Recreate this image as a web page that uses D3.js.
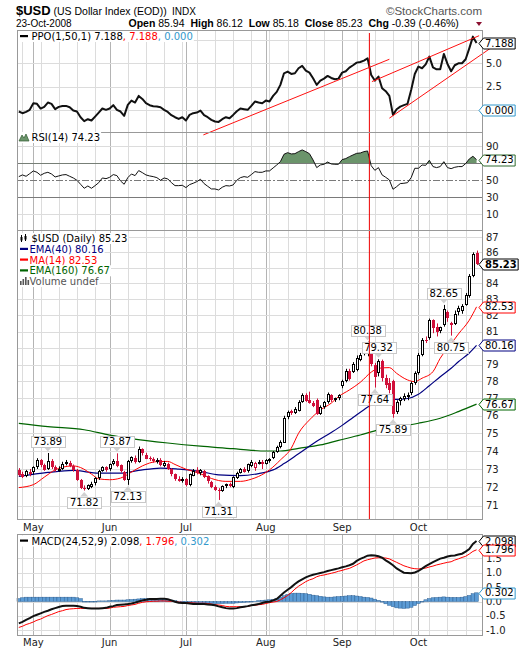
<!DOCTYPE html>
<html><head><meta charset="utf-8">
<script src="https://cdn.jsdelivr.net/npm/d3@7/dist/d3.min.js"></script>
<style>html,body{margin:0;padding:0;background:#fff;}svg{display:block;}</style>
</head><body>
<svg id="chart" width="520" height="651"></svg>
<script>
// ---------------- DATA ----------------
const dates = ["04-25","04-28","04-29","04-30",
"05-01","05-02","05-05","05-06","05-07","05-08","05-09","05-12","05-13","05-14","05-15","05-16","05-19","05-20","05-21","05-22","05-23","05-27","05-28","05-29","05-30",
"06-02","06-03","06-04","06-05","06-06","06-09","06-10","06-11","06-12","06-13","06-16","06-17","06-18","06-19","06-20","06-23","06-24","06-25","06-26","06-27","06-30",
"07-01","07-02","07-03","07-07","07-08","07-09","07-10","07-11","07-14","07-15","07-16","07-17","07-18","07-21","07-22","07-23","07-24","07-25","07-28","07-29","07-30","07-31",
"08-01","08-04","08-05","08-06","08-07","08-08","08-11","08-12","08-13","08-14","08-15","08-18","08-19","08-20","08-21","08-22","08-25","08-26","08-27","08-28","08-29",
"09-02","09-03","09-04","09-05","09-08","09-09","09-10","09-11","09-12","09-15","09-16","09-17","09-18","09-19","09-22","09-23","09-24","09-25","09-26","09-29","09-30",
"10-01","10-02","10-03","10-06","10-07","10-08","10-09","10-10","10-13","10-14","10-15","10-16","10-17","10-20","10-21","10-22","10-23"];
const monthLabels = ["May","Jun","Jul","Aug","Sep","Oct"];

const opens = [72.95,72.75,72.60,72.85,72.80,73.10,73.50,73.20,73.00,73.45,73.10,72.90,73.00,73.30,73.35,73.15,72.95,72.40,71.95,71.90,72.05,72.20,72.50,72.90,73.10,
72.95,73.30,73.45,73.20,72.85,72.40,73.40,73.60,73.40,74.10,73.80,73.60,73.55,73.40,73.50,73.20,73.30,73.00,72.70,72.45,72.35,
72.45,72.10,72.65,72.95,72.80,72.90,72.60,72.30,72.00,71.85,71.80,72.05,72.20,72.00,72.50,72.80,73.00,72.85,73.20,73.05,73.35,73.40,
73.30,73.45,73.60,73.95,74.20,74.50,75.90,76.25,76.15,76.30,76.80,77.20,76.90,76.75,76.90,76.10,76.50,76.80,77.20,76.90,77.00,
77.70,78.00,78.60,78.60,78.70,79.30,79.65,79.70,79.80,79.00,78.50,79.20,78.20,77.90,78.00,76.20,76.80,77.00,77.10,77.30,77.90,
78.50,79.60,80.50,80.60,81.70,81.30,81.00,81.40,82.20,81.50,81.50,82.20,82.30,82.70,83.20,84.50,85.94];
const highs = [73.05,72.85,72.95,73.00,73.15,73.60,73.55,73.30,73.89,73.55,73.20,73.15,73.40,73.50,73.45,73.25,73.00,72.45,72.10,72.15,72.30,72.55,72.95,73.15,73.15,
73.30,73.55,73.87,73.25,72.90,73.50,73.70,73.75,74.25,74.15,73.90,73.70,73.65,73.60,73.60,73.45,73.35,73.05,72.75,72.60,72.55,
72.50,72.75,73.00,73.10,73.00,72.95,72.65,72.35,72.10,71.95,72.10,72.20,72.25,72.60,72.85,73.05,73.10,73.30,73.50,73.40,73.50,73.50,
73.55,73.60,74.00,74.30,74.60,76.00,76.30,76.35,76.50,76.90,77.30,77.30,77.40,76.85,77.00,76.60,76.85,77.35,77.25,77.05,77.25,
78.10,78.75,78.75,79.15,79.55,79.70,80.00,80.38,79.90,79.10,79.32,79.30,78.40,78.20,78.10,76.90,77.10,77.30,77.35,78.00,78.60,
79.70,80.60,80.70,81.80,81.75,81.50,81.30,82.65,82.30,81.60,82.30,82.60,82.70,83.40,84.60,86.00,86.12];
const lows = [72.60,72.50,72.55,72.60,72.70,73.00,73.10,72.90,72.95,73.00,72.85,72.85,72.95,73.20,73.10,72.85,72.35,71.90,71.82,71.85,71.95,72.10,72.40,72.85,72.85,
72.90,73.20,73.10,72.80,72.35,72.13,73.35,73.30,73.35,73.75,73.55,73.45,73.35,73.30,73.15,73.10,72.95,72.60,72.35,72.30,72.25,
72.05,72.05,72.60,72.70,72.65,72.50,72.20,71.95,71.80,71.31,71.75,71.95,72.00,71.95,72.45,72.75,72.80,72.80,73.10,72.90,73.25,73.00,
73.25,73.35,73.55,73.90,74.15,74.45,75.80,76.05,76.10,76.25,76.75,76.80,76.70,76.50,76.05,76.05,76.40,76.70,76.80,76.80,76.90,
77.60,77.95,78.05,78.50,78.60,79.20,79.55,79.50,78.90,77.64,78.30,78.00,77.60,77.30,75.89,76.10,76.60,76.85,76.90,77.20,77.80,
78.40,79.50,80.30,80.50,80.90,80.70,80.90,81.30,81.60,80.75,81.40,82.00,82.10,82.60,83.10,84.40,85.18];
const closes = [72.70,72.60,72.90,72.75,73.10,73.50,73.20,72.95,73.45,73.10,72.95,73.00,73.30,73.40,73.20,72.95,72.40,71.95,71.90,72.10,72.20,72.50,72.90,73.10,72.95,
73.25,73.45,73.20,72.85,72.40,73.45,73.65,73.35,74.10,73.85,73.60,73.55,73.45,73.50,73.20,73.35,73.00,72.70,72.45,72.35,72.45,
72.10,72.70,72.90,72.80,72.95,72.55,72.30,72.00,71.85,71.80,72.05,72.15,72.10,72.55,72.80,73.00,72.85,73.25,73.40,73.35,73.40,73.30,
73.50,73.55,73.95,74.25,74.50,75.90,76.20,76.15,76.40,76.80,77.20,76.85,76.75,76.60,76.10,76.50,76.80,77.25,76.90,77.00,77.20,
78.00,78.60,78.10,79.05,79.40,79.60,79.90,80.10,79.00,78.30,79.20,78.20,77.80,77.50,76.05,76.80,77.00,77.15,77.20,77.90,78.50,
79.60,80.50,80.45,81.70,81.20,81.00,81.25,82.40,81.80,81.35,82.10,82.45,82.60,83.30,84.50,85.90,85.23];

const ma14Days = [0,4,7,10,12,15,17,20,22,25,28,31,34,38,41,43,46,50,53,57,61,64,66,69,72,75,77,80,83,86,88,91,94,97,99,102,104,107,109,111,114,116,119,121,124,126];
const ma14Vals = [71.98,72.14,72.55,72.95,73.10,73.17,73.08,72.72,72.46,72.41,72.50,72.83,73.17,73.41,73.42,73.25,72.99,72.74,72.48,72.32,72.32,72.44,72.59,72.95,73.50,74.16,75.00,75.76,76.33,76.73,77.11,77.50,77.95,78.55,78.78,78.82,78.48,78.09,77.99,78.19,78.58,79.38,80.25,80.85,81.70,82.53];
const ema40Days = [0,8,15,22,28,33,39,44,50,55,61,66,70,73,77,82,86,89,92,95,98,101,104,107,110,113,116,119,121,124,126];
const ema40Vals = [72.59,72.81,72.92,72.77,72.77,72.92,73.05,72.99,72.86,72.68,72.64,72.75,72.95,73.30,73.85,74.55,75.05,75.45,75.90,76.35,76.75,76.95,76.95,77.00,77.25,77.75,78.28,78.78,79.17,79.70,80.16];
const ema160Days = [0,8,18,25,31,41,50,59,64,68,72,77,83,88,94,99,105,110,116,121,126];
const ema160Vals = [75.57,75.38,75.20,74.90,74.70,74.45,74.27,74.13,74.04,74.00,74.00,74.15,74.34,74.60,74.90,75.19,75.38,75.57,75.86,76.24,76.67];

const ppo = [-0.14,-0.32,-0.18,0.04,0.75,0.68,0.18,0.36,0.82,0.68,0.11,0.36,0.46,0.46,0.32,-0.04,-0.14,-0.75,-1.17,-0.96,-1.10,-0.68,-0.25,0.18,0.04,
0.18,0.54,0.04,-0.14,-0.60,0.57,1.03,0.82,1.53,1.21,0.75,0.54,0.43,0.39,0.32,0.04,-0.18,-0.53,-0.75,-0.93,-0.75,
-1.10,-0.50,-0.32,-0.25,-0.04,-0.53,-0.75,-1.03,-1.21,-1.25,-0.96,-0.75,-0.85,-0.50,-0.11,0.18,0.11,0.04,0.46,0.93,0.82,0.75,
1.03,0.93,1.53,1.96,2.71,3.95,4.13,3.88,3.95,4.49,4.74,4.24,4.02,3.42,2.71,3.17,3.38,3.67,3.45,3.31,3.38,
4.02,4.17,4.56,4.81,5.09,5.16,5.31,5.55,3.77,3.17,3.60,2.35,2.03,1.53,-0.50,0.11,0.39,0.54,0.68,2.17,3.88,
4.67,4.49,4.91,5.73,4.59,4.38,4.38,6.02,4.95,4.17,4.81,5.02,5.02,5.45,6.62,7.87,7.188];
const ppoTicks = [0, 2.5, 5, 7.5];
// trendlines drawn on the PPO panel: [startDay, startValue, endDay, endValue]
const ppoTrendlines = [[50.8,-2.64,102,5.45],[97.2,3.06,126.7,7.97],[102,-0.85,129.8,6.62]];
const markerDay = 96.5;

const rsi = [54.3,56.3,54.7,57.8,61.0,59.4,55.9,58.2,59.4,57.4,53.9,55.1,56.3,56.7,54.7,52.7,50.0,45.3,40.6,43.3,40.6,43.7,47.2,52.7,51.9,
53.5,56.7,55.5,49.2,45.3,53.1,57.4,55.5,61.4,59.0,56.3,55.1,54.3,53.1,50.0,52.7,51.6,47.2,43.7,43.7,44.1,
41.4,44.9,46.5,48.4,51.2,46.1,42.9,39.8,39.8,38.6,41.8,43.7,43.3,44.5,50.0,53.1,54.3,53.5,56.7,60.2,59.4,59.4,
61.0,61.0,64.5,68.0,71.9,80.6,82.5,81.0,81.3,83.7,85.7,83.7,81.3,73.9,64.9,68.0,68.8,71.5,69.2,68.8,68.8,
74.3,75.5,77.8,79.8,81.7,82.1,83.7,84.5,67.2,61.7,64.9,56.3,53.5,50.4,39.4,42.5,46.1,46.5,47.2,53.1,64.1,
64.1,68.0,67.6,73.5,66.1,64.9,66.1,71.9,64.9,63.7,65.3,66.1,66.1,69.6,75.1,78.2,74.23];
const rsiTicks = [10,30,50,70,90];

const macd = [-0.76,-0.71,-0.64,-0.58,-0.51,-0.46,-0.41,-0.36,-0.32,-0.27,-0.23,-0.19,-0.16,-0.15,-0.15,-0.15,-0.16,-0.18,-0.22,-0.23,-0.24,-0.24,-0.24,-0.23,-0.22,
-0.18,-0.16,-0.12,-0.11,-0.10,-0.09,-0.07,-0.04,0.00,0.04,0.06,0.09,0.09,0.09,0.10,0.10,0.08,0.04,-0.01,-0.04,-0.05,
-0.05,-0.07,-0.09,-0.09,-0.09,-0.09,-0.10,-0.11,-0.13,-0.17,-0.20,-0.23,-0.24,-0.24,-0.23,-0.20,-0.18,-0.16,-0.13,-0.11,-0.09,-0.05,
-0.02,-0.01,0.04,0.09,0.20,0.31,0.41,0.50,0.61,0.70,0.77,0.84,0.89,0.93,0.96,0.99,1.02,1.06,1.09,1.12,1.15,
1.19,1.22,1.26,1.31,1.41,1.48,1.53,1.59,1.61,1.60,1.57,1.52,1.43,1.35,1.26,1.15,1.07,1.00,0.99,0.98,1.01,
1.06,1.14,1.23,1.30,1.37,1.43,1.49,1.52,1.56,1.59,1.60,1.63,1.66,1.73,1.82,2.00,2.098];
const macdSignal = [-0.90,-0.86,-0.80,-0.76,-0.71,-0.65,-0.61,-0.55,-0.49,-0.45,-0.40,-0.35,-0.32,-0.28,-0.26,-0.25,-0.24,-0.24,-0.24,-0.24,-0.24,-0.24,-0.24,-0.24,-0.24,
-0.23,-0.20,-0.19,-0.18,-0.17,-0.14,-0.12,-0.10,-0.06,-0.03,-0.01,0.00,0.01,0.01,0.02,0.02,0.01,0.01,0.00,-0.02,-0.03,
-0.04,-0.04,-0.05,-0.06,-0.06,-0.06,-0.07,-0.09,-0.11,-0.12,-0.14,-0.17,-0.18,-0.18,-0.18,-0.18,-0.18,-0.17,-0.14,-0.13,-0.11,-0.10,
-0.07,-0.04,-0.02,0.00,0.06,0.13,0.21,0.31,0.43,0.53,0.61,0.69,0.75,0.79,0.86,0.90,0.92,0.95,0.98,1.01,1.05,
1.08,1.12,1.15,1.21,1.27,1.34,1.41,1.45,1.48,1.51,1.52,1.52,1.51,1.48,1.42,1.36,1.30,1.24,1.20,1.16,1.14,
1.13,1.15,1.16,1.20,1.23,1.27,1.30,1.33,1.36,1.38,1.44,1.48,1.53,1.57,1.65,1.74,1.796];
const macdHist = [0.10,0.13,0.15,0.15,0.15,0.15,0.15,0.15,0.15,0.15,0.15,0.15,0.15,0.15,0.15,0.15,0.13,0.10,0.00,-0.01,-0.01,0.00,0.02,0.02,0.02,
0.03,0.04,0.05,0.05,0.05,0.06,0.07,0.08,0.09,0.10,0.10,0.10,0.10,0.10,0.10,0.09,0.07,0.05,0.03,0.01,-0.02,
-0.03,-0.03,-0.04,-0.05,-0.06,-0.06,-0.07,-0.07,-0.07,-0.07,-0.07,-0.06,-0.06,-0.06,-0.05,-0.04,-0.03,-0.02,-0.01,0.01,0.03,0.04,
0.05,0.06,0.07,0.10,0.15,0.20,0.25,0.28,0.29,0.29,0.28,0.27,0.25,0.22,0.20,0.18,0.16,0.15,0.15,0.16,0.17,
0.18,0.19,0.20,0.20,0.19,0.17,0.15,0.14,0.12,0.08,0.04,-0.02,-0.08,-0.13,-0.18,-0.22,-0.23,-0.24,-0.23,-0.20,-0.14,
-0.07,0.00,0.06,0.10,0.13,0.14,0.15,0.16,0.15,0.14,0.14,0.14,0.15,0.17,0.21,0.27,0.302];
const macdTicks = [-1.0,-0.5,0,0.5,1.0,1.5,2.0];

// annotated swing highs / lows (day index)
const highMarks = [8,27,96,99,117];
const lowMarks = [18,30,55,98,103,119];

const symbol = "$USD", quote = {open:85.94, high:86.12, low:85.18, close:85.23, chg:-0.39, chgPct:-0.46};

// ---------------- LAYOUT ----------------
const svg = d3.select("#chart");
const F = "'DejaVu Sans', Verdana, sans-serif";
const HF = "'Liberation Sans', Arial, sans-serif";
const N = dates.length;
const L = 17, R = 482;
const x = d3.scaleLinear().domain([-0.5, 127.5]).range([L, R]);
const P = {ppo:[30,132], rsi:[132,230], main:[230,519], macd:[534,635]};
const yPPO = d3.scaleLinear().domain([-2.33, 8.58]).range([132, 30]);
const yRSI = d3.scaleLinear().domain([-8.5, 106.8]).range([230, 132]);
const yMain = d3.scaleLog().domain([70.29, 87.47]).range([519, 230]);
const yMACD = d3.scaleLinear().domain([-1.163, 2.344]).range([635, 534]);
const days = d3.range(N);

const dObjs = dates.map(d => new Date("2008-" + d + "T12:00:00"));
const monthStarts = [], weekStarts = [];
dObjs.forEach((d, i) => {
  if (i === 0) return;
  const p = dObjs[i-1];
  if (d.getMonth() !== p.getMonth()) monthStarts.push(i);
  else if (d.getDay() < p.getDay()) weekStarts.push(i);
});
const px = i => Math.round(x(i)) + 0.5;

// ---------------- GRIDS ----------------
const gGrid = svg.append("g");
function grid(top, bottom, ys, ticks, styleFn) {
  weekStarts.forEach(i => gGrid.append("line").attr("x1", px(i)).attr("x2", px(i)).attr("y1", top).attr("y2", bottom).attr("stroke", "#dcdcdc"));
  monthStarts.forEach(i => gGrid.append("line").attr("x1", px(i)).attr("x2", px(i)).attr("y1", top).attr("y2", bottom).attr("stroke", "#b4b4b4"));
  ticks.forEach(t => {
    const yy = Math.round(ys(t)) + 0.5;
    const ln = gGrid.append("line").attr("x1", L).attr("x2", R).attr("y1", yy).attr("y2", yy).attr("stroke", "#dcdcdc");
    if (styleFn) styleFn(t, ln);
  });
}
grid(P.ppo[0], P.ppo[1], yPPO, ppoTicks);
grid(P.rsi[0], P.rsi[1], yRSI, rsiTicks, (t, ln) => {
  if (t === 30 || t === 70) ln.attr("stroke", "#7a7a7a");
  if (t === 50) ln.attr("stroke", "#7a7a7a").attr("stroke-dasharray", "7,2,2,2");
});
grid(P.main[0], P.main[1], yMain, d3.range(71, 88));
grid(P.macd[0], P.macd[1], yMACD, macdTicks);

// ---------------- PPO ----------------
svg.append("path").attr("d", d3.line().x(i => x(i)).y(i => yPPO(ppo[i]))(days))
  .attr("fill", "none").attr("stroke", "#111").attr("stroke-width", 2).attr("stroke-linejoin", "round");
ppoTrendlines.forEach(t => svg.append("line").attr("x1", x(t[0])).attr("y1", yPPO(t[1])).attr("x2", x(t[2])).attr("y2", yPPO(t[3]))
  .attr("stroke", "#ff1010").attr("stroke-width", 1));

// ---------------- RSI ----------------
svg.append("clipPath").attr("id", "ob").append("rect").attr("x", L).attr("y", P.rsi[0]).attr("width", R - L).attr("height", yRSI(70) - P.rsi[0]);
svg.append("path").attr("clip-path", "url(#ob)")
  .attr("d", d3.area().x(i => x(i)).y0(yRSI(70)).y1(i => yRSI(rsi[i]))(days))
  .attr("fill", "#6b946b").attr("stroke", "none");
svg.append("path").attr("d", d3.line().x(i => x(i)).y(i => yRSI(rsi[i]))(days))
  .attr("fill", "none").attr("stroke", "#111").attr("stroke-width", 1);

// ---------------- MAIN ----------------
const mline = (ds, vs) => d3.line().curve(d3.curveMonotoneX).x((d, k) => x(ds[k])).y((d, k) => yMain(vs[k]))(vs);
svg.append("path").attr("d", mline(ema160Days, ema160Vals)).attr("fill", "none").attr("stroke", "#006400").attr("stroke-width", 1.2);
svg.append("path").attr("d", mline(ema40Days, ema40Vals)).attr("fill", "none").attr("stroke", "#000080").attr("stroke-width", 1.2);
svg.append("path").attr("d", mline(ma14Days, ma14Vals)).attr("fill", "none").attr("stroke", "#ff0000").attr("stroke-width", 1);

const gC = svg.append("g");
days.forEach(i => {
  const cx = Math.round(x(i));
  const up = i === 0 ? closes[i] >= opens[i] : closes[i] >= closes[i-1];
  const col = up ? "#000" : "#d0103a";
  gC.append("line").attr("x1", cx + 0.5).attr("x2", cx + 0.5).attr("y1", yMain(highs[i])).attr("y2", yMain(lows[i])).attr("stroke", col);
  const yO = yMain(opens[i]), yCl = yMain(closes[i]);
  const top = Math.round(Math.min(yO, yCl)), h = Math.max(1, Math.round(Math.abs(yO - yCl)));
  if (closes[i] > opens[i]) {
    gC.append("rect").attr("x", cx - 0.5).attr("y", top + 0.5).attr("width", 2).attr("height", Math.max(1, h - 1))
      .attr("fill", "#fff").attr("stroke", col);
  } else {
    gC.append("rect").attr("x", cx - 1).attr("y", top).attr("width", 3).attr("height", h).attr("fill", col);
  }
});

// swing annotations
const gA = svg.append("g");
function annot(i, val, above) {
  const cx = x(i), yv = yMain(val);
  const h = 11;
  const t = gA.append("text").attr("font-family", F).attr("font-size", 10).attr("text-anchor", "middle").text(val.toFixed(2));
  const w = t.node().getComputedTextLength() + 5;
  const by = above ? yv - 6 - h : yv + 6;
  const tip = above ? yv - 1.5 : yv + 1.5;
  const base = above ? by + h : by;
  gA.insert("path", "text").attr("d", `M${cx-4},${base}L${cx+4},${base}L${cx},${tip}Z`).attr("fill", "#d0d0d0");
  gA.insert("rect", "text").attr("x", Math.round(cx - w/2) + 0.5).attr("y", Math.round(by) + 0.5).attr("width", Math.round(w)).attr("height", h)
    .attr("fill", "#fff").attr("stroke", "#c8c8c8");
  t.attr("x", cx).attr("y", by + 9);
}
highMarks.forEach(i => annot(i, highs[i], true));
lowMarks.forEach(i => annot(i, lows[i], false));

// ---------------- MACD ----------------
const bw = x(1) - x(0);
days.forEach(i => {
  const y0 = yMACD(0), y1 = yMACD(macdHist[i]);
  svg.append("rect").attr("x", x(i) - bw/2).attr("y", Math.min(y0, y1)).attr("width", bw).attr("height", Math.max(0.5, Math.abs(y1 - y0)))
    .attr("fill", "#5b9bd5").attr("stroke", "#2f6295").attr("stroke-width", 0.5);
});
svg.append("path").attr("d", d3.line().x(i => x(i)).y(i => yMACD(macdSignal[i]))(days)).attr("fill", "none").attr("stroke", "#ff0000").attr("stroke-width", 1);
svg.append("path").attr("d", d3.line().x(i => x(i)).y(i => yMACD(macd[i]))(days)).attr("fill", "none").attr("stroke", "#111").attr("stroke-width", 2);

// vertical marker line
svg.append("line").attr("x1", x(markerDay)).attr("x2", x(markerDay)).attr("y1", P.ppo[0] + 3).attr("y2", P.main[1]).attr("stroke", "#ee0000").attr("stroke-width", 1);

// ---------------- PANEL BORDERS ----------------
Object.values(P).forEach(p => svg.append("rect").attr("x", L + 0.5).attr("y", p[0] + 0.5).attr("width", R - L).attr("height", p[1] - p[0])
  .attr("fill", "none").attr("stroke", "#999"));

// ---------------- VALUE TAGS (right axis) ----------------
const tags = [
  {y: yPPO(ppo[N-1]), text: ppo[N-1].toFixed(3), stroke: "#000"},
  {y: yPPO(0), text: "0.000", stroke: "#3399cc"},
  {y: yRSI(rsi[N-1]), text: rsi[N-1].toFixed(2), stroke: "#2e6b2e"},
  {y: yMain(closes[N-1]), text: closes[N-1].toFixed(2), stroke: "#000", bold: true},
  {y: yMain(ma14Vals[ma14Vals.length-1]), text: ma14Vals[ma14Vals.length-1].toFixed(2), stroke: "#ff0000"},
  {y: yMain(ema40Vals[ema40Vals.length-1]), text: ema40Vals[ema40Vals.length-1].toFixed(2), stroke: "#000080"},
  {y: yMain(ema160Vals[ema160Vals.length-1]), text: ema160Vals[ema160Vals.length-1].toFixed(2), stroke: "#006400"},
  {y: yMACD(macd[N-1]), text: macd[N-1].toFixed(3), stroke: "#000"},
  {y: yMACD(macdSignal[N-1]), text: macdSignal[N-1].toFixed(3), stroke: "#ff0000"},
  {y: yMACD(macdHist[N-1]), text: macdHist[N-1].toFixed(3), stroke: "#3399cc"}
];
const hiddenByTag = yy => tags.some(t => Math.abs(t.y - yy) < 5.5);

// ---------------- AXIS LABELS ----------------
const gAx = svg.append("g").attr("font-family", F).attr("font-size", 10).attr("fill", "#222");
function axisLabel(yy, txt) { if (!hiddenByTag(yy)) gAx.append("text").attr("x", 486).attr("y", yy + 3.5).text(txt); }
ppoTicks.forEach(t => axisLabel(yPPO(t), t.toFixed(1)));
rsiTicks.forEach(t => axisLabel(yRSI(t), t));
d3.range(71, 88).forEach(t => axisLabel(yMain(t), t));
macdTicks.forEach(t => axisLabel(yMACD(t), t.toFixed(1)));
monthStarts.forEach((i, k) => {
  gAx.append("text").attr("x", x(i)).attr("y", 530.5).attr("text-anchor", "middle").text(monthLabels[k]);
  gAx.append("text").attr("x", x(i)).attr("y", 645.5).attr("text-anchor", "middle").text(monthLabels[k]);
});

tags.forEach(tg => {
  const g = svg.append("g");
  const t = g.append("text").attr("x", 485).attr("y", tg.y + 3.6).attr("font-family", F).attr("font-size", 10)
    .attr("font-weight", tg.bold ? "bold" : "normal").attr("fill", "#000").text(tg.text);
  const w = t.node().getComputedTextLength();
  const yy = Math.round(tg.y) + 0.5;
  g.insert("path", "text").attr("d", `M479,${yy}L483.5,${yy-5.5}L${486.5+w},${yy-5.5}L${486.5+w},${yy+5.5}L483.5,${yy+5.5}Z`)
    .attr("fill", "#fff").attr("stroke", tg.stroke).attr("stroke-width", 1);
});

// ---------------- PANEL LEGENDS ----------------
function legendLine(xText, yBase, parts, icon) {
  const g = svg.append("g");
  const t = g.append("text").attr("x", xText).attr("y", yBase).attr("font-family", F).attr("font-size", 10);
  parts.forEach(p => t.append("tspan").attr("fill", p[1]).text(p[0]));
  const w = t.node().getComputedTextLength();
  g.insert("rect", "text").attr("x", 18).attr("y", yBase - 9).attr("width", xText + w - 17).attr("height", 11).attr("fill", "#fff");
  if (icon) icon(g, yBase);
}
const dash = col => (g, yb) => g.append("rect").attr("x", 20).attr("y", yb - 5).attr("width", 8).attr("height", 2.2).attr("fill", col);
legendLine(31.5, 40, [["PPO(1,50,1) " + ppo[N-1].toFixed(3), "#000"], [", " + ppo[N-1].toFixed(3), "#ff0000"], [", 0.000", "#3399cc"]], dash("#000"));
legendLine(31.5, 141, [["RSI(14) " + rsi[N-1].toFixed(2), "#000"]], (g, yb) => {
  g.append("path").attr("d", `M19,${yb}L22,${yb-6}L24,${yb-3}L26,${yb-7}L29,${yb}Z`).attr("fill", "#6b946b").attr("stroke", "#2e5a2e").attr("stroke-width", 0.7);
});
legendLine(31.5, 242, [[symbol + " (Daily) " + closes[N-1].toFixed(2), "#000"]], (g, yb) => {
  [[21, yb-7, yb], [25, yb-8, yb-1]].forEach(c => {
    g.append("line").attr("x1", c[0] + 0.5).attr("x2", c[0] + 0.5).attr("y1", c[1]).attr("y2", c[2]).attr("stroke", "#000");
    g.append("rect").attr("x", c[0] - 0.5).attr("y", c[1] + 2).attr("width", 2).attr("height", 3.5).attr("fill", "#000");
  });
});
legendLine(29.5, 252.8, [["EMA(40) " + ema40Vals[ema40Vals.length-1].toFixed(2), "#000080"]], dash("#000080"));
legendLine(29.5, 263.5, [["MA(14) " + ma14Vals[ma14Vals.length-1].toFixed(2), "#ff0000"]], dash("#ff0000"));
legendLine(29.5, 274.3, [["EMA(160) " + ema160Vals[ema160Vals.length-1].toFixed(2), "#006400"]], dash("#006400"));
legendLine(29.5, 285, [["Volume undef", "#555"]], (g, yb) => {
  [[20,4],[22.5,6],[25,8],[27.5,5]].forEach(b => g.append("rect").attr("x", b[0]).attr("y", yb - b[1]).attr("width", 1.6).attr("height", b[1]).attr("fill", "#555"));
});
legendLine(31.5, 544.5, [["MACD(24,52,9) " + macd[N-1].toFixed(3), "#000"], [", " + macdSignal[N-1].toFixed(3), "#ff0000"], [", " + macdHist[N-1].toFixed(3), "#3399cc"]], dash("#000"));

// ---------------- HEADER ----------------
svg.append("text").attr("x", 16).attr("y", 15).attr("font-family", HF).attr("font-size", 13).attr("font-weight", "bold").text(symbol);
svg.append("text").attr("x", 53.5).attr("y", 14.5).attr("font-family", HF).attr("font-size", 10.5).text("(US Dollar Index (EOD))");
svg.append("text").attr("x", 172).attr("y", 14.5).attr("font-family", HF).attr("font-size", 10).text("INDX");
svg.append("text").attr("x", 482).attr("y", 14.5).attr("text-anchor", "end").attr("font-family", HF).attr("font-size", 11.5).attr("fill", "#555").text("\u00A9StockCharts.com");
svg.append("text").attr("x", 16).attr("y", 26.5).attr("font-family", HF).attr("font-size", 10).text("23-Oct-2008");
const q = svg.append("text").attr("x", 128.5).attr("y", 26.5).attr("font-family", HF).attr("font-size", 10.5);
[["Open", true], [" " + quote.open.toFixed(2) + "  ", false], ["High", true], [" " + quote.high.toFixed(2) + "  ", false],
 ["Low", true], [" " + quote.low.toFixed(2) + "  ", false], ["Close", true], [" " + quote.close.toFixed(2) + "  ", false],
 ["Chg", true], [" " + quote.chg.toFixed(2) + " (" + quote.chgPct.toFixed(2) + "%)", false]]
 .forEach(p => q.append("tspan").attr("font-weight", p[1] ? "bold" : "normal").attr("xml:space", "preserve").text(p[0]));
svg.append("path").attr("d", "M476,22L482,22L479,26Z").attr("fill", "#8b1030");
</script>
</body></html>
